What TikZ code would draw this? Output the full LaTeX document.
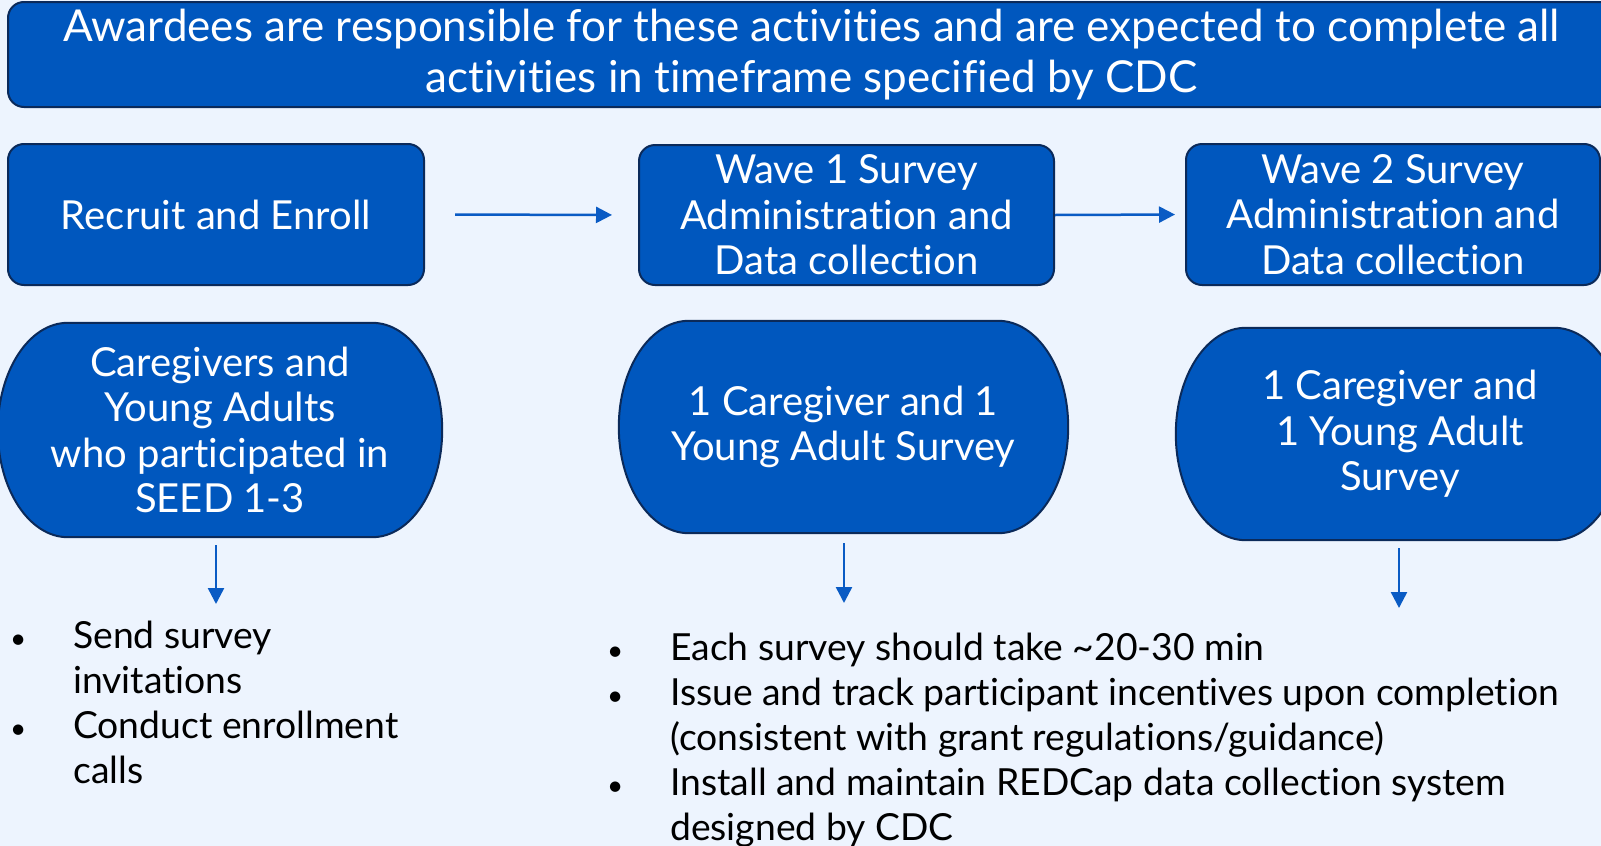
\documentclass[tikz,border=0pt]{standalone}
\usepackage{fontspec}
\setmainfont{Lato}[Ligatures=NoCommon]
\usetikzlibrary{positioning,arrows.meta,calc,backgrounds}

\definecolor{pagebg}{HTML}{EDF4FE}
\definecolor{boxblue}{HTML}{0057BE}
\definecolor{boxedge}{HTML}{0B2A5A}
\definecolor{arrowblue}{HTML}{0A5BC4}

\newcommand{\bannerfont}{\fontsize{44}{51}\selectfont}
\newcommand{\boxfont}{\fontsize{40}{45.5}\selectfont}
\newcommand{\listfont}{\fontsize{37.3}{45}\selectfont}
\newcommand{\bul}{\makebox[73pt][l]{\makebox[36pt]{\scalebox{0.75}{\textbullet}}}}

% flowchart terminator outline round a named node
\newcommand{\terminator}[1]{%
  \path[termfill] let \p1=(#1.north), \p2=(#1.south), \n1={0.5*(\y1-\y2)} in
    ([xshift=70pt]#1.north west) -- ([xshift=-70pt]#1.north east)
    arc[start angle=90, end angle=-90, x radius=70pt, y radius={\n1*1pt}]
    -- ([xshift=70pt]#1.south west)
    arc[start angle=270, end angle=90, x radius=70pt, y radius={\n1*1pt}] -- cycle;}

\begin{document}
\begin{tikzpicture}[x=1pt, y=-1pt,
  box/.style={draw=boxedge, fill=boxblue, line width=2pt, rounded corners=16pt,
    text=white, align=center, font=\boxfont, inner sep=0pt},
  banner/.style={box, font=\bannerfont},
  term/.style={text=white, align=center, font=\boxfont, inner sep=0pt},
  termfill/.style={draw=boxedge, fill=boxblue, line width=2pt},
  flow/.style={draw=arrowblue, line width=2.5pt, -{Triangle[length=16pt, width=16pt]}},
  listtext/.style={font=\listfont, text=black, inner sep=0pt}
]
  \useasboundingbox (0,0) rectangle (1601,846);

  % Top banner
  \node[banner, minimum width=1607, minimum height=105] (banner) at (811.5,54.5)
    {Awardees are responsible for these activities and are expected to complete all\\
     activities in timeframe specified by CDC};

  % Steps
  \node[box, minimum width=416, minimum height=141] (recruit) at (216,214.5) {Recruit and Enroll};
  \node[box, minimum width=415, minimum height=140] (wave1) at (846.5,215)
    {Wave 1 Survey\\Administration and\\Data collection};
  \node[box, minimum width=414, minimum height=141] (wave2) at (1393,214.5)
    {Wave 2 Survey\\Administration and\\Data collection};

  % Who takes part
  \node[term, minimum width=444, minimum height=214] (seed) at (220,430)
    {Caregivers and\\Young Adults\\who participated in\\SEED 1-3};
  \node[term, minimum width=449, minimum height=212] (pair1) at (843.5,427)
    {1 Caregiver and 1\\Young Adult Survey};
  \node[term, minimum width=448, minimum height=212] (pair2) at (1400,434)
    {1 Caregiver and\\1 Young Adult\\Survey};

  \begin{scope}[on background layer]
    \fill[pagebg] (0,0) rectangle (1601,846);
    \terminator{seed}
    \terminator{pair1}
    \terminator{pair2}
  \end{scope}

  % Arrows
  \draw[flow, shorten <=30pt, shorten >=26pt] (recruit.east) -- (wave1.west);
  \draw[flow, shorten >=10pt] (wave1.east) -- (wave2.west);

  \coordinate (seeddown) at (216,604);
  \coordinate (pair1down) at (844,603);
  \coordinate (pair2down) at (1399,608);
  \draw[flow, shorten <=8pt] (seed.south -| seeddown) -- (seeddown);
  \draw[flow, shorten <=10pt] (pair1.south -| pair1down) -- (pair1down);
  \draw[flow, shorten <=8pt] (pair2.south -| pair2down) -- (pair2down);

  % Task lists
  \node[listtext, anchor=base west] (tasks1) at (0,648)
    {\begin{tabular}[t]{@{}l@{}l@{}}
      \bul & Send survey\\
           & invitations\\
      \bul & Conduct enrollment\\
           & calls
     \end{tabular}};
  \node[listtext, anchor=base west] (tasks2) at (597,660)
    {\begin{tabular}[t]{@{}l@{}l@{}}
      \bul & Each survey should take \textasciitilde20-30 min\\
      \bul & Issue and track participant incentives upon completion\\
           & (consistent with grant regulations/guidance)\\
      \bul & Install and maintain REDCap data collection system\\
           & designed by CDC
     \end{tabular}};
\end{tikzpicture}
\end{document}
